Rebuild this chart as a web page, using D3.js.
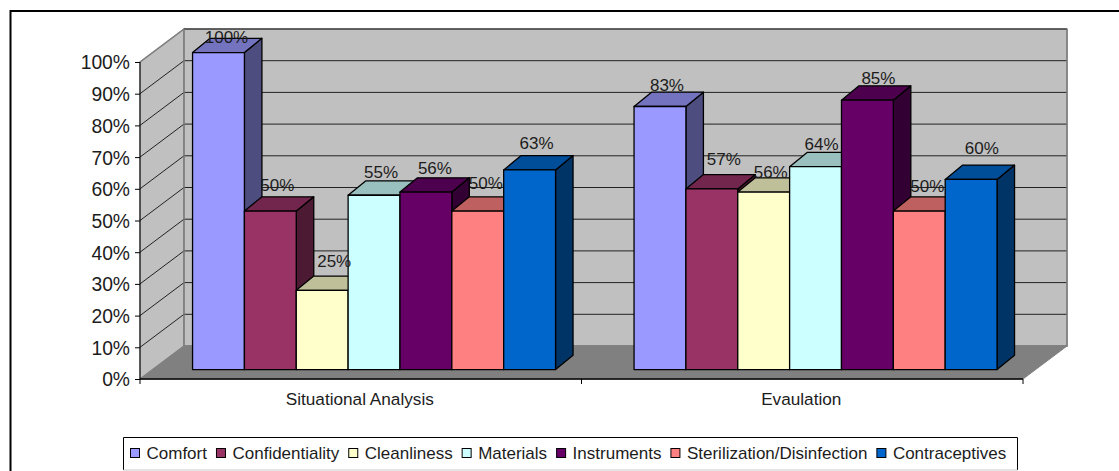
<!DOCTYPE html>
<html>
<head>
<meta charset="utf-8">
<script src="https://cdn.jsdelivr.net/npm/d3@7/dist/d3.min.js"></script>
<style>
  html, body { margin: 0; padding: 0; background: #fff; overflow: hidden; }
  svg { display: block; }
  text { font-family: "Liberation Sans", Arial, sans-serif; fill: #1c1c1c; }
</style>
</head>
<body>
<svg id="chart" width="1119" height="471"></svg>
<script>
// Survey scores per phase
const categories = ["Situational Analysis", "Evaulation"];
const seriesNames = ["Comfort", "Confidentiality", "Cleanliness", "Materials", "Instruments", "Sterilization/Disinfection", "Contraceptives"];
const situationalValues = [100, 50, 25, 55, 56, 50, 63];
const evaluationValues = [83, 57, 56, 64, 85, 50, 60];
const seriesColors = ["#9999FF", "#993366", "#FFFFCC", "#CCFFFF", "#660066", "#FF8080", "#0066CC"];
const yTickValues = [0, 10, 20, 30, 40, 50, 60, 70, 80, 90, 100];

// Value-label placement relative to each bar's front top edge, one row per phase
const labelNudgeX = [[8, 7, 12, 7, 9, 8, 7], [7, 12, 7, 6, 11, 8, 10.7]];
const labelNudgeY = [[-9.5, -20.5, -23, -17.6, -18, -22, -20.7], [-15, -24, -14, -17, -16, -19, -25]];

const plotLeft = 140, plotRight = 1023, plotBottom = 379, plotTop = 62;
const wallDx = 44, wallDy = 33;          // depth of the floor and side wall
const barDx = 17.5, barDy = 14.3;        // depth of one bar
const barShiftX = 13.3, barShiftY = 9.4; // bars stand slightly back from the front edge

const svg = d3.select("#chart");
const poly = pts => pts.map(p => p.join(",")).join(" ");
const shade = (c, k) => { const r = d3.rgb(c); return d3.rgb(r.r * k, r.g * k, r.b * k).formatHex(); };

const x0 = d3.scaleBand().domain(categories).range([plotLeft, plotRight]);
const x1 = d3.scaleBand().domain(seriesNames).range([0, x0.bandwidth()]).paddingInner(0).paddingOuter(0.757);
const y = d3.scaleLinear().domain([0, 100]).range([plotBottom, plotTop]);

// Outer frame
svg.append("path").attr("d", "M10.5,480V11H1125").attr("fill", "none").attr("stroke", "#000").attr("stroke-width", 2);

// Walls and floor
svg.append("polygon")
  .attr("points", poly([[plotLeft, plotTop], [plotLeft + wallDx, plotTop - wallDy], [plotLeft + wallDx, plotBottom - wallDy], [plotLeft, plotBottom]]))
  .attr("fill", "#C0C0C0").attr("stroke", "#808080").attr("stroke-width", 1.2);
svg.append("rect")
  .attr("x", plotLeft + wallDx).attr("y", plotTop - wallDy)
  .attr("width", plotRight - plotLeft).attr("height", plotBottom - plotTop)
  .attr("fill", "#C0C0C0").attr("stroke", "#808080").attr("stroke-width", 1.4);
svg.append("polygon")
  .attr("points", poly([[plotLeft, plotBottom], [plotLeft + wallDx, plotBottom - wallDy], [plotRight + wallDx, plotBottom - wallDy], [plotRight, plotBottom]]))
  .attr("fill", "#808080").attr("stroke", "#808080").attr("stroke-width", 1);

// Gridlines run along the side wall and across the back wall
svg.append("g").selectAll("path")
  .data(yTickValues.filter(t => t > 0 && t < 100).concat([100]))
  .join("path")
  .attr("d", t => t === 100
    ? `M${plotLeft + wallDx},${y(t) - wallDy}H${plotRight + wallDx}`
    : `M${plotLeft},${y(t)}L${plotLeft + wallDx},${y(t) - wallDy}H${plotRight + wallDx}`)
  .attr("fill", "none").attr("stroke", "#222").attr("stroke-width", 1);
svg.append("path")
  .attr("d", `M${plotLeft},${y(100)}L${plotLeft + wallDx},${y(100) - wallDy}`)
  .attr("fill", "none").attr("stroke", "#808080").attr("stroke-width", 1.2);
svg.append("path")
  .attr("d", `M${plotLeft + wallDx},${plotTop - wallDy}V${plotBottom - wallDy}H${plotRight + wallDx}V${plotTop - wallDy}`)
  .attr("fill", "none").attr("stroke", "#808080").attr("stroke-width", 1.4);

// Bars, painted left to right so each one overlaps the previous
const phaseValues = [situationalValues, evaluationValues];
const bars = [];
categories.forEach((cat, ci) => seriesNames.forEach((name, si) => bars.push({
  cat, ci, name, si, value: phaseValues[ci][si]
})));
const barX = d => x0(d.cat) + x1(d.name) + barShiftX;
const barTop = d => y(d.value) - barShiftY;
const barBottom = y(0) - barShiftY;

const barG = svg.append("g").attr("stroke", "#000").attr("stroke-width", 1.3).attr("stroke-linejoin", "round");
bars.forEach(d => {
  const xa = barX(d), xb = xa + x1.bandwidth(), t = barTop(d), c = seriesColors[d.si];
  barG.append("polygon")
    .attr("points", poly([[xb, t], [xb + barDx, t - barDy], [xb + barDx, barBottom - barDy], [xb, barBottom]]))
    .attr("fill", shade(c, 0.5));
  barG.append("polygon")
    .attr("points", poly([[xa, t], [xa + barDx, t - barDy], [xb + barDx, t - barDy], [xb, t]]))
    .attr("fill", shade(c, 0.75));
  barG.append("rect")
    .attr("x", xa).attr("y", t).attr("width", x1.bandwidth()).attr("height", barBottom - t)
    .attr("fill", c);
});

// Value labels
svg.append("g").selectAll("text").data(bars).join("text")
  .attr("x", d => barX(d) + x1.bandwidth() / 2 + labelNudgeX[d.ci][d.si])
  .attr("y", d => barTop(d) + labelNudgeY[d.ci][d.si])
  .attr("text-anchor", "middle").attr("font-size", 17)
  .text(d => d.value + "%");

// Value axis
const yAxis = svg.append("g").attr("transform", `translate(${plotLeft},0)`)
  .call(d3.axisLeft(y).tickValues(yTickValues).tickSize(5).tickPadding(5).tickFormat(t => t + "%"));
yAxis.selectAll("path,line").attr("stroke", "#000").attr("stroke-width", 1);
yAxis.select(".domain").attr("d", `M0,${plotTop}V${plotBottom}`);
yAxis.selectAll("text").attr("font-size", 19.3).attr("dy", "0.36em").attr("font-family", null).style("fill", "#1c1c1c");

// Category axis: ticks sit on the band edges, labels in the band centres
const xAxis = svg.append("g").attr("transform", `translate(0,${plotBottom})`)
  .call(d3.axisBottom(x0).tickSize(0).tickPadding(14));
xAxis.select(".domain").attr("d", `M${plotLeft},0H${plotRight}`).attr("stroke", "#000").attr("stroke-width", 1.4);
xAxis.selectAll("text").attr("font-size", 17.2).attr("dx", -1).attr("font-family", null).style("fill", "#1c1c1c");
xAxis.selectAll("line.edge")
  .data([...categories.map(c => x0(c)), plotRight])
  .join("line").attr("class", "edge")
  .attr("x1", d => d).attr("x2", d => d).attr("y1", 0).attr("y2", 5)
  .attr("stroke", "#000");

// Legend
const legend = svg.append("g");
legend.append("path").attr("d", "M1017.5,470V437.5H123.5V470").attr("fill", "none").attr("stroke", "#000").attr("stroke-width", 1);
legend.append("path").attr("d", "M123.5,470H1017.5").attr("fill", "none").attr("stroke", "#c8c8c8").attr("stroke-width", 1);
let cursor = 130;
seriesNames.forEach((name, i) => {
  legend.append("rect").attr("x", cursor + 0.5).attr("y", 448.5).attr("width", 9).attr("height", 9)
    .attr("fill", seriesColors[i]).attr("stroke", "#000").attr("stroke-width", 1);
  const t = legend.append("text").attr("x", cursor + 16.5).attr("y", 459).attr("font-size", 17).text(name);
  cursor += 16.5 + t.node().getComputedTextLength() + 9;
});
</script>
</body>
</html>
